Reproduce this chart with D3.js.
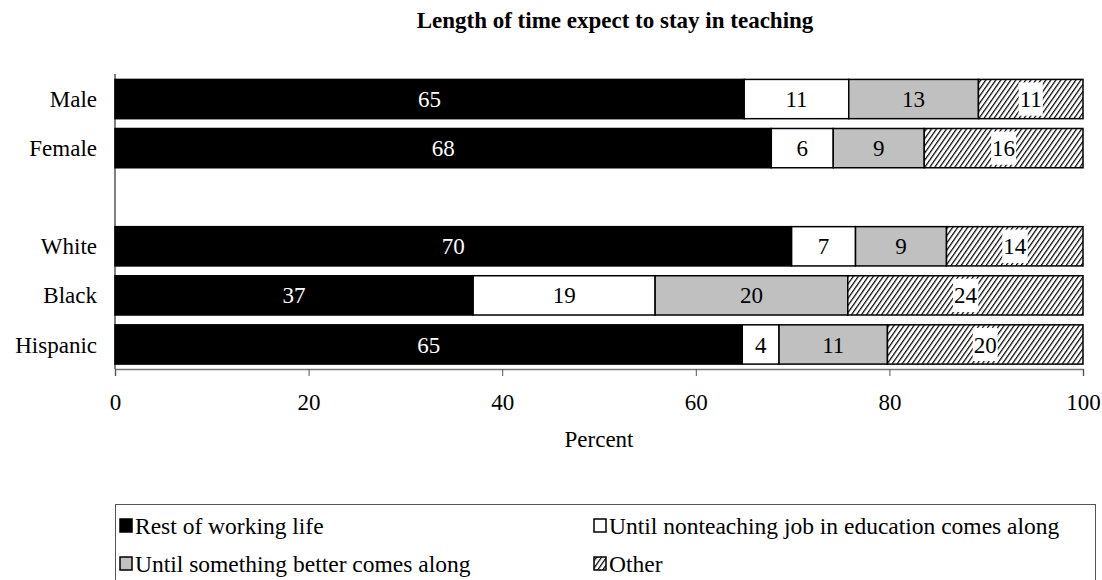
<!DOCTYPE html>
<head>
<meta charset="utf-8">
<style>
body { margin: 0; background: #fff; }
svg { display: block; font-family: "Liberation Serif", "Times New Roman", serif; }
.title { font-weight: bold; font-size: 23px; }
.cat { font-size: 23px; }
.tick text { font-size: 23px; font-family: "Liberation Serif", serif; }
.seglabel { font-size: 23px; }
.legtext { font-size: 23.5px; }
</style>
</head>
<body>
<svg width="1102" height="580"></svg>
<script src="https://d3js.org/d3.v7.min.js"></script>
<script>

// data (segments in percent, labels are the rounded figures)
var categories = ["Male", "Female", "", "White", "Black", "Hispanic"];
var series = ["Rest of working life", "Until nonteaching job in education comes along",
              "Until something better comes along", "Other"];
var restOfLife   = [65.0, 67.8, null, 69.9, 37.0, 64.8];
var nonteaching  = [10.8,  6.4, null,  6.6, 18.8,  3.8];
var somethingBetter = [13.4, 9.4, null, 9.4, 19.9, 11.2];
var other        = [10.8, 16.4, null, 14.1, 24.3, 20.2];
var xTicks = [0, 20, 40, 60, 80, 100];

var svg = d3.select("svg");

var x = d3.scaleLinear().domain([0, 100]).range([115, 1083]);
var y = d3.scaleBand().domain(d3.range(categories.length)).range([74.5, 369]).paddingInner(0.2).paddingOuter(0.1);

// hatch pattern for "Other"
var defs = svg.append("defs");
var pat = defs.append("pattern")
    .attr("id", "hatch")
    .attr("patternUnits", "userSpaceOnUse")
    .attr("width", 4.1).attr("height", 4.1)
    .attr("patternTransform", "rotate(35)");
pat.append("rect").attr("width", 4.1).attr("height", 4.1).attr("fill", "#fff");
pat.append("line").attr("x1", 0).attr("y1", 0).attr("x2", 0).attr("y2", 4.1)
    .attr("stroke", "#000").attr("stroke-width", 2.4);

var fills = ["#000", "#fff", "#c0c0c0", "url(#hatch)"];
var cols = [restOfLife, nonteaching, somethingBetter, other];

svg.append("text").attr("class", "title")
    .attr("x", 615).attr("y", 28).attr("text-anchor", "middle")
    .text("Length of time expect to stay in teaching");

// rows
categories.forEach(function(cat, i) {
  if (restOfLife[i] == null) return;
  var cum = 0;
  var row = svg.append("g");
  cols.forEach(function(arr, s) {
    var v = arr[i], x0 = x(cum), x1 = x(cum + v);
    cum += v;
    row.append("rect")
      .attr("x", x0).attr("y", y(i))
      .attr("width", x1 - x0).attr("height", y.bandwidth())
      .attr("fill", fills[s]).attr("stroke", "#000").attr("stroke-width", 1.5);
    var lab = row.append("text").attr("class", "seglabel")
      .attr("x", (x0 + x1) / 2).attr("y", y(i) + y.bandwidth() / 2)
      .attr("dy", "0.35em").attr("text-anchor", "middle")
      .attr("fill", s === 0 ? "#fff" : "#000")
      .text(Math.round(v));
    if (s === 3) {
      var bb = lab.node().getBBox();
      row.insert("rect", function() { return lab.node(); })
        .attr("x", bb.x - 1).attr("y", y(i) + 3).attr("width", bb.width + 2).attr("height", y.bandwidth() - 6)
        .attr("fill", "#fff");
    }
  });
  svg.append("text").attr("class", "cat")
    .attr("x", 97).attr("y", y(i) + y.bandwidth() / 2).attr("dy", "0.35em")
    .attr("text-anchor", "end").text(cat);
});

// y axis line
svg.append("line").attr("x1", 115).attr("x2", 115).attr("y1", 74).attr("y2", 369)
    .attr("stroke", "#000").attr("stroke-width", 1);

// x axis
var xAxis = svg.append("g").attr("transform", "translate(0,369)")
    .call(d3.axisBottom(x).tickValues(xTicks).tickSize(7).tickPadding(18).tickFormat(d3.format("d")));
xAxis.select(".domain").attr("stroke", "#777").attr("stroke-width", 1.5);
xAxis.selectAll(".tick line").attr("stroke", "#555");
xAxis.selectAll(".tick text").attr("fill", "#000");

svg.append("text").attr("class", "cat")
    .attr("x", 599).attr("y", 439).attr("dy", "0.35em").attr("text-anchor", "middle").text("Percent");

// legend
var leg = svg.append("g");
leg.append("rect").attr("x", 115.5).attr("y", 504.5).attr("width", 980).attr("height", 100)
    .attr("fill", "none").attr("stroke", "#555").attr("stroke-width", 1);
var legPos = [[119, 526], [593, 526], [119, 564], [593, 564]];
series.forEach(function(name, s) {
  var p = legPos[s];
  leg.append("rect").attr("x", p[0] + 1).attr("y", p[1] - 7)
    .attr("width", 12).attr("height", 13)
    .attr("fill", fills[s]).attr("stroke", "#000").attr("stroke-width", 1.5);
  leg.append("text").attr("class", "legtext")
    .attr("x", p[0] + 16).attr("y", p[1]).attr("dy", "0.35em").text(name);
});

</script>
</body>
